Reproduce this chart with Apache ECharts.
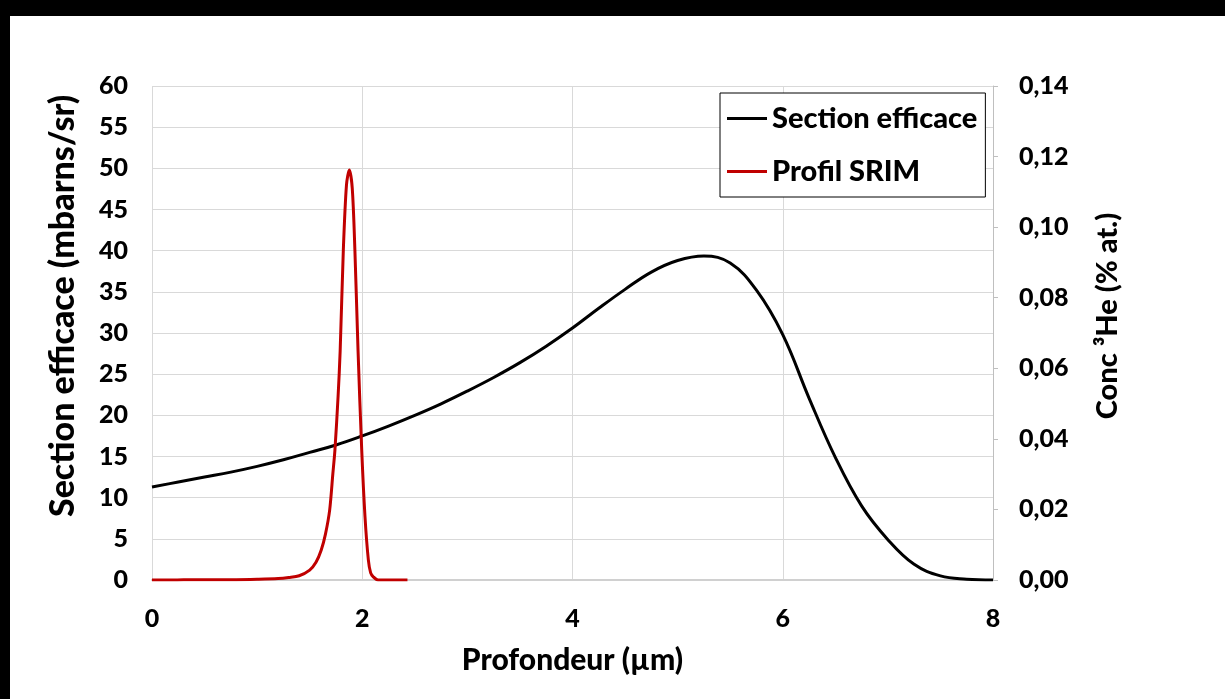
<!DOCTYPE html>
<html>
<head>
<meta charset="utf-8">
<script src="https://cdn.jsdelivr.net/npm/echarts@6/dist/echarts.min.js"></script>
<style>
html,body{margin:0;padding:0;background:#fff;}
#c{width:1225px;height:699px;}
</style>
</head>
<body>
<div id="c"></div>
<script>
// Section efficace (mbarns/sr) vs Profondeur (µm)
const sectionX = [0, 0.25, 0.5, 0.75, 1, 1.25, 1.5, 1.75, 2, 2.25, 2.5, 2.75, 3, 3.25, 3.5, 3.75, 4, 4.25, 4.5, 4.75, 5, 5.25, 5.5, 5.75, 6, 6.25, 6.5, 6.75, 7, 7.25, 7.5, 7.75, 8];
const sectionY = [11.3, 11.9, 12.5, 13.1, 13.8, 14.6, 15.5, 16.4, 17.5, 18.7, 20.0, 21.4, 22.95, 24.6, 26.4, 28.4, 30.6, 33.0, 35.3, 37.4, 38.8, 39.35, 38.5, 35.2, 29.8, 22.1, 14.9, 9.0, 4.9, 1.9, 0.5, 0.1, 0.0];
// Profil SRIM, Conc 3He (% at.)
const srimX = [0, 0.2, 0.4, 0.6, 0.8, 1.0, 1.2, 1.3, 1.4, 1.5, 1.56, 1.61, 1.65, 1.69, 1.72, 1.74, 1.77, 1.79, 1.82, 1.85, 1.877, 1.905, 1.93, 1.96, 1.995, 2.026, 2.058, 2.08, 2.105, 2.15, 2.3, 2.43];
const srimY = [0, 0, 0.0001, 0.0001, 0.0001, 0.0002, 0.0004, 0.0007, 0.0012, 0.0028, 0.005, 0.0085, 0.013, 0.0198, 0.030, 0.0368, 0.052, 0.065, 0.0935, 0.112, 0.1162, 0.111, 0.0935, 0.065, 0.0368, 0.018, 0.0057, 0.002, 0.0009, 0, 0, 0];
const xTicks = [0, 2, 4, 6, 8];
const leftTitle = 'Section efficace (mbarns/sr)';
const rightTitle = 'Conc ³He (% at.)';
const xTitle = 'Profondeur (µm)';

const FONT = 'Lato';
const W = 900;
const chart = echarts.init(document.getElementById('c'), null, {renderer: 'canvas'});
chart.setOption({
  animation: false,
  backgroundColor: '#fff',
  textStyle: {fontFamily: FONT},
  grid: {left: 152, right: 232, top: 86, bottom: 119, containLabel: false},
  legend: {
    orient: 'vertical',
    left: 720, top: 93,
    padding: [10, 8, 10, 7],
    icon: 'rect',
    itemWidth: 40, itemHeight: 3, itemGap: 22,
    borderColor: '#000', borderWidth: 1,
    backgroundColor: '#fff',
    textStyle: {fontFamily: FONT, fontWeight: W, fontSize: 29, lineHeight: 31, color: '#000'},
    data: ['Section efficace', 'Profil SRIM']
  },
  xAxis: {
    type: 'value', min: 0, max: 8, interval: 2,
    name: xTitle, nameLocation: 'middle', nameGap: 65,
    nameTextStyle: {fontFamily: FONT, fontWeight: W, fontSize: 30, color: '#000'},
    axisLine: {show: true, lineStyle: {color: '#d0d0d0', width: 2}},
    axisTick: {show: false},
    axisLabel: {fontFamily: FONT, fontWeight: W, fontSize: 25, color: '#000', margin: 26,
      formatter: v => xTicks.includes(v) ? String(v) : ''},
    splitLine: {show: true, lineStyle: {color: '#d9d9d9', width: 1}}
  },
  yAxis: [{
    type: 'value', min: 0, max: 60, interval: 5,
    axisLine: {show: false},
    axisTick: {show: false},
    axisLabel: {fontFamily: FONT, fontWeight: W, fontSize: 25, color: '#000', margin: 24},
    splitLine: {show: true, lineStyle: {color: '#d9d9d9', width: 1}}
  }, {
    type: 'value', min: 0, max: 0.14, interval: 0.02, position: 'right',
    axisLine: {show: true, lineStyle: {color: '#bfbfbf', width: 1}},
    axisTick: {show: true, length: 5, lineStyle: {color: '#bfbfbf'}},
    axisLabel: {fontFamily: FONT, fontWeight: W, fontSize: 25, color: '#000', margin: 26,
      formatter: v => v.toFixed(2).replace('.', ',')},
    splitLine: {show: false}
  }],
  series: [{
    name: 'Section efficace', type: 'line', yAxisIndex: 0,
    data: sectionX.map((x, i) => [x, sectionY[i]]),
    smooth: 0.4, symbol: 'none',
    lineStyle: {color: '#000', width: 3}, itemStyle: {color: '#000'}, z: 3
  }, {
    name: 'Profil SRIM', type: 'line', yAxisIndex: 1,
    data: srimX.map((x, i) => [x, srimY[i]]),
    smooth: 0.3, symbol: 'none',
    lineStyle: {color: '#c00000', width: 3}, itemStyle: {color: '#c00000'}, z: 4
  }],
  graphic: [
    {type: 'text', x: 63, y: 306, rotation: Math.PI / 2,
      style: {text: leftTitle, fontFamily: FONT, fontWeight: W, fontSize: 34, fill: '#000', align: 'center', verticalAlign: 'middle'}},
    {type: 'text', x: 1108, y: 316, rotation: Math.PI / 2,
      style: {text: rightTitle, fontFamily: FONT, fontWeight: W, fontSize: 29, fill: '#000', align: 'center', verticalAlign: 'middle'}},
    {type: 'rect', left: 0, top: 0, shape: {width: 1225, height: 16}, style: {fill: '#000'}, z: 100},
    {type: 'rect', left: 0, top: 0, shape: {width: 10, height: 699}, style: {fill: '#000'}, z: 100}
  ]
});
</script>
</body>
</html>
